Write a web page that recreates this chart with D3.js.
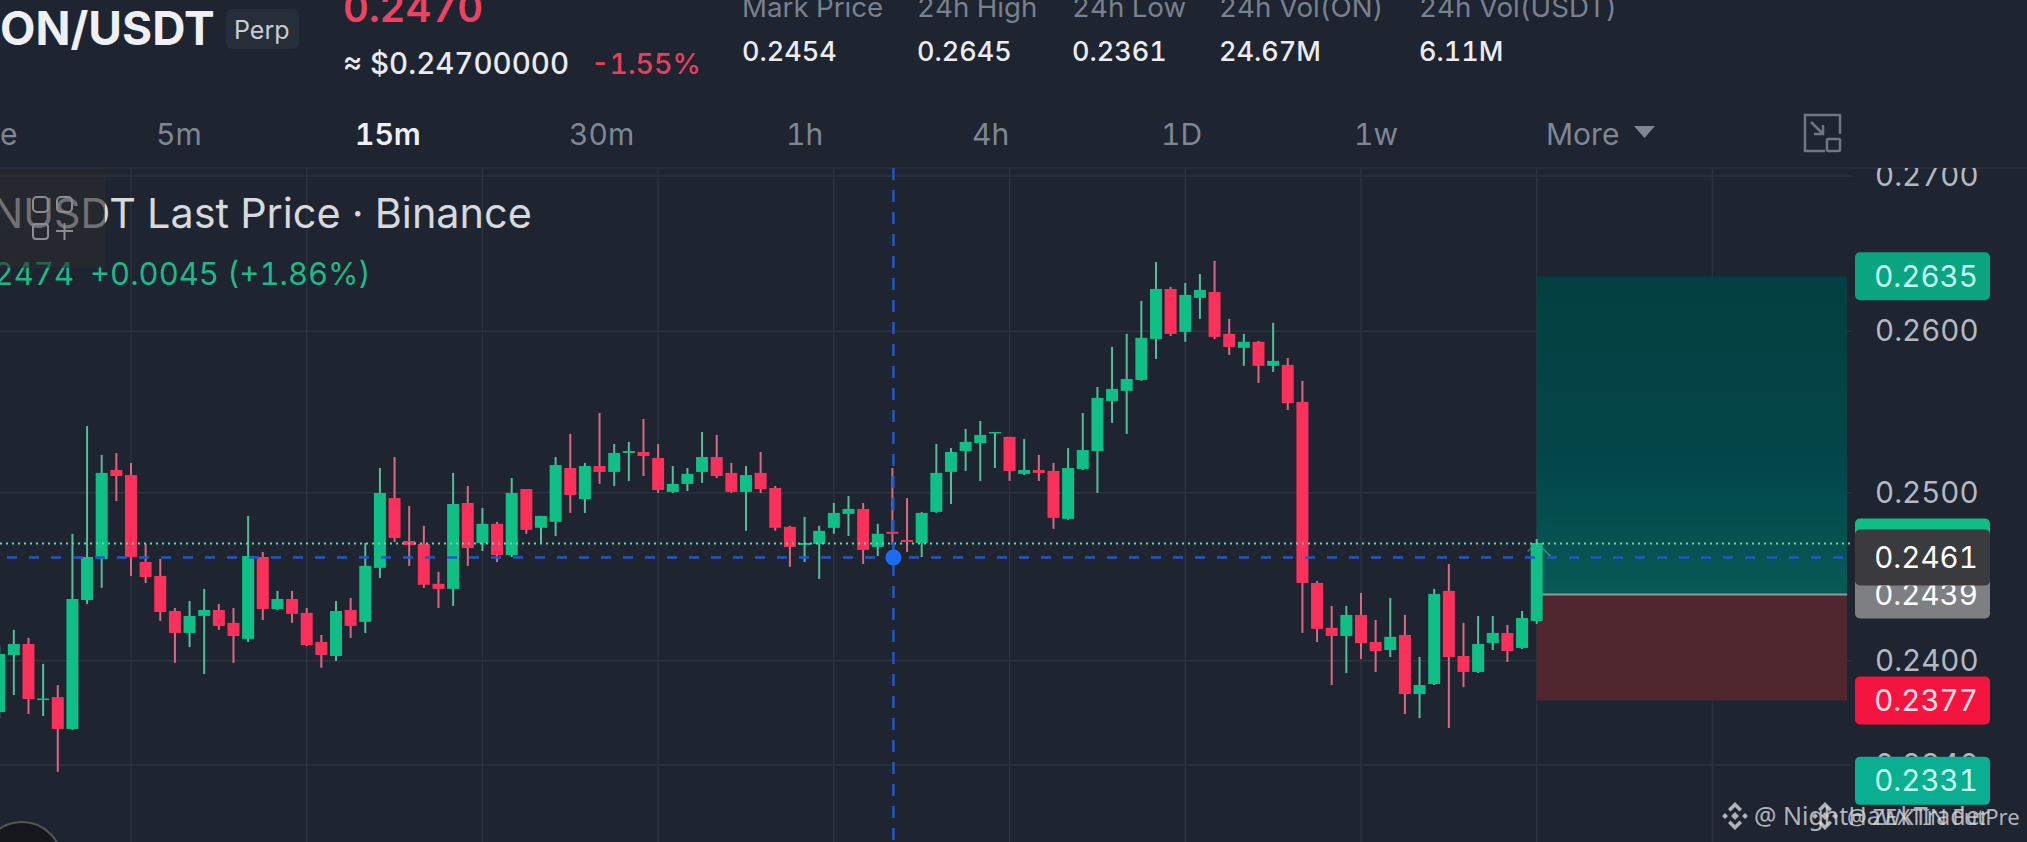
<!DOCTYPE html>
<html>
<head>
<meta charset="utf-8">
<style>
  html, body { margin: 0; padding: 0; background: #1e2430; overflow: hidden; }
  svg { display: block; font-family: Inter, Roboto, sans-serif; font-variant-numeric: tabular-nums; }
</style>
</head>
<body>
<div class="container"></div>
<script src="https://cdn.jsdelivr.net/npm/d3@7/dist/d3.min.js"></script>
<script>
// candle values, one entry per 15m bar
const opens = [
  0.23703, 0.24034, 0.24098, 0.23772, 0.23789, 0.23606, 0.24357, 0.24601, 0.25139, 0.25108,
  0.24583, 0.24500, 0.24292, 0.24163, 0.24263, 0.24298, 0.24222, 0.24128, 0.24613, 0.24304,
  0.24363, 0.24281, 0.24110, 0.24028, 0.24298, 0.24228, 0.24548, 0.24968, 0.24709, 0.24691,
  0.24453, 0.24423, 0.24938, 0.24697, 0.24812, 0.24625, 0.25023, 0.24788, 0.24824, 0.25151,
  0.24962, 0.25163, 0.25127, 0.25243, 0.25249, 0.25212, 0.25005, 0.25054, 0.25127, 0.25218,
  0.25121, 0.25005, 0.25121, 0.25029, 0.24794, 0.24685, 0.24691, 0.24788, 0.24872, 0.24902,
  0.24673, 0.24764, 0.24715, 0.24697, 0.24884, 0.25127, 0.25255, 0.25304, 0.25366, 0.25342,
  0.25115, 0.25139, 0.25133, 0.24842, 0.25145, 0.25255, 0.25564, 0.25627, 0.25695, 0.25952,
  0.26269, 0.25997, 0.26212, 0.26250, 0.25984, 0.25896, 0.25934, 0.25783, 0.25789, 0.25558,
  0.24458, 0.24193, 0.24145, 0.24269, 0.24110, 0.24063, 0.24151, 0.23807, 0.23865, 0.24411,
  0.24028, 0.23935, 0.24104, 0.24163, 0.24075, 0.24233,
];
const closes = [
  0.24040, 0.24098, 0.23778, 0.23781, 0.23606, 0.24363, 0.24613, 0.25121, 0.25102, 0.24613,
  0.24494, 0.24286, 0.24163, 0.24263, 0.24298, 0.24204, 0.24145, 0.24619, 0.24304, 0.24363,
  0.24275, 0.24092, 0.24034, 0.24292, 0.24204, 0.24560, 0.24999, 0.24727, 0.24685, 0.24447,
  0.24423, 0.24932, 0.24667, 0.24812, 0.24625, 0.24999, 0.24776, 0.24860, 0.25169, 0.24987,
  0.25163, 0.25127, 0.25243, 0.25255, 0.25224, 0.25017, 0.25054, 0.25115, 0.25218, 0.25102,
  0.25005, 0.25108, 0.25023, 0.24788, 0.24673, 0.24697, 0.24770, 0.24878, 0.24902, 0.24655,
  0.24752, 0.24752, 0.24703, 0.24878, 0.25121, 0.25249, 0.25311, 0.25354, 0.25372, 0.25133,
  0.25139, 0.25121, 0.24848, 0.25151, 0.25261, 0.25583, 0.25639, 0.25701, 0.25959, 0.26269,
  0.25984, 0.26231, 0.26263, 0.25965, 0.25902, 0.25934, 0.25783, 0.25814, 0.25551, 0.24458,
  0.24187, 0.24145, 0.24269, 0.24104, 0.24057, 0.24140, 0.23807, 0.23859, 0.24393, 0.24022,
  0.23935, 0.24098, 0.24163, 0.24057, 0.24251, 0.24697,
];
const highs = [
  0.24092, 0.24181, 0.24134, 0.23982, 0.23859, 0.24752, 0.25409, 0.25231, 0.25243, 0.25182,
  0.24691, 0.24601, 0.24310, 0.24351, 0.24423, 0.24333, 0.24310, 0.24860, 0.24643, 0.24411,
  0.24411, 0.24310, 0.24151, 0.24351, 0.24369, 0.24697, 0.25151, 0.25218, 0.24920, 0.24800,
  0.24524, 0.25121, 0.25041, 0.24908, 0.24824, 0.25090, 0.25023, 0.24860, 0.25218, 0.25360,
  0.25182, 0.25489, 0.25298, 0.25311, 0.25452, 0.25298, 0.25163, 0.25151, 0.25372, 0.25354,
  0.25182, 0.25163, 0.25249, 0.25041, 0.24800, 0.24854, 0.24800, 0.24938, 0.24980, 0.24938,
  0.24812, 0.25151, 0.24968, 0.24884, 0.25298, 0.25273, 0.25391, 0.25440, 0.25372, 0.25342,
  0.25329, 0.25231, 0.25182, 0.25273, 0.25489, 0.25651, 0.25902, 0.25984, 0.26193, 0.26442,
  0.26282, 0.26308, 0.26365, 0.26449, 0.26079, 0.25984, 0.25940, 0.26054, 0.25832, 0.25689,
  0.24470, 0.24322, 0.24322, 0.24399, 0.24239, 0.24369, 0.24269, 0.24022, 0.24423, 0.24571,
  0.24222, 0.24263, 0.24263, 0.24210, 0.24292, 0.24721,
];
const lows = [
  0.23668, 0.23801, 0.23692, 0.23680, 0.23361, 0.23600, 0.24333, 0.24429, 0.24950, 0.24500,
  0.24458, 0.24233, 0.23988, 0.24080, 0.23923, 0.24181, 0.23988, 0.24110, 0.24239, 0.24298,
  0.24222, 0.24085, 0.23959, 0.23999, 0.24134, 0.24163, 0.24488, 0.24703, 0.24560, 0.24429,
  0.24310, 0.24322, 0.24560, 0.24649, 0.24583, 0.24613, 0.24752, 0.24691, 0.24739, 0.24878,
  0.24878, 0.25054, 0.25041, 0.25072, 0.25102, 0.24999, 0.24999, 0.25011, 0.25060, 0.25090,
  0.24999, 0.24770, 0.24999, 0.24770, 0.24554, 0.24583, 0.24482, 0.24752, 0.24739, 0.24571,
  0.24619, 0.24685, 0.24643, 0.24613, 0.24878, 0.24932, 0.25133, 0.25072, 0.25151, 0.25072,
  0.25108, 0.25072, 0.24782, 0.24836, 0.25139, 0.24999, 0.25428, 0.25360, 0.25689, 0.25826,
  0.25971, 0.25934, 0.26079, 0.25952, 0.25851, 0.25783, 0.25676, 0.25745, 0.25508, 0.24163,
  0.24110, 0.23859, 0.23929, 0.24011, 0.23935, 0.24022, 0.23692, 0.23668, 0.23859, 0.23611,
  0.23847, 0.23929, 0.24063, 0.23993, 0.24069, 0.24216,
];

const priceTicks = [0.27, 0.26, 0.25, 0.24, 0.234];
const timeGridBars = [9, 21, 33, 45, 57, 69, 81, 93, 105, 117];

const lastPrice = 0.247;
const crossPrice = 0.2461;
const crossBar = 61;

// long position tool
const targetPrice = 0.2635;
const entryPrice = 0.2439;
const stopPrice = 0.2377;
const toolStartBar = 105;
const toolEndBar = 126.2;

const priceTags = [
  { price: targetPrice, fill: "#0aa480", color: "#c9fff0", h: 48 },
  { price: lastPrice, fill: "#10bd85", color: "#ffffff", h: 48 },
  { price: entryPrice, fill: "#7e7f83", color: "#ffffff", h: 48 },
  { price: stopPrice, fill: "#f5143f", color: "#ffe0e5", h: 48 },
  { price: 0.2331, fill: "#0aae91", color: "#c9fff0", h: 48 },
  { price: crossPrice, fill: "#3b3b3d", color: "#ffffff", h: 56 },
];

const statLabels = ["Mark Price", "24h High", "24h Low", "24h Vol(ON)", "24h Vol(USDT)"];
const statValues = ["0.2454", "0.2645", "0.2361", "24.67M", "6.11M"];
const statX = [742, 917, 1072, 1219, 1419];

const intervals = ["e", "5m", "15m", "30m", "1h", "4h", "1D", "1w", "More"];
const intervalX = [0, 156, 355, 569, 786, 972, 1161, 1354, 1546];

const width = 2027;
const height = 842;
const gridRight = 1852;
const chartTop = 168;

const green = "#0fbf85";
const red = "#fb305b";
const wickGreen = "#56bd9c";
const wickRed = "#d96a84";
const gridColor = "#2c333e";
const blue = "#1f58c9";

const svg = d3
  .select(".container")
  .append("svg")
  .attr("width", width)
  .attr("height", height)
  .attr("viewBox", `0 0 ${width} ${height}`);

svg.append("rect").attr("width", width).attr("height", height).attr("fill", "#1e2430");

const x = d3.scaleLinear().domain([0, 105]).range([-0.8, 1536.7]);
const y = d3.scaleLog().domain([0.27, 0.234]).range([176, 765]);

const defs = svg.append("defs");
const boxGradient = defs
  .append("linearGradient")
  .attr("id", "targetFill")
  .attr("x1", 0)
  .attr("x2", 0)
  .attr("y1", 0)
  .attr("y2", 1);
boxGradient.append("stop").attr("offset", "0%").attr("stop-color", "#033f40");
boxGradient.append("stop").attr("offset", "60%").attr("stop-color", "#03474a");
boxGradient.append("stop").attr("offset", "100%").attr("stop-color", "#075a56");

defs
  .append("clipPath")
  .attr("id", "axisClip")
  .append("rect")
  .attr("x", gridRight)
  .attr("y", chartTop)
  .attr("width", width - gridRight)
  .attr("height", height - chartTop);

// header
const header = svg.append("g");
header
  .append("text")
  .attr("x", 0)
  .attr("y", 45)
  .attr("font-size", 46)
  .attr("font-weight", 700)
  .attr("fill", "#eef0f3")
  .text("ON/USDT");
header
  .append("rect")
  .attr("x", 226)
  .attr("y", 9)
  .attr("width", 73)
  .attr("height", 40)
  .attr("rx", 6)
  .attr("fill", "#262e3a");
header
  .append("text")
  .attr("x", 234)
  .attr("y", 39)
  .attr("font-size", 25)
  .attr("fill", "#c9cdd3")
  .text("Perp");
header
  .append("text")
  .attr("x", 343)
  .attr("y", 22)
  .attr("font-size", 40)
  .attr("font-weight", 600)
  .attr("fill", "#ec4460")
  .text("0.2470");
header
  .append("text")
  .attr("x", 343)
  .attr("y", 74)
  .attr("font-size", 29.5)
  .attr("font-weight", 500)
  .attr("fill", "#e9ebee")
  .text("≈ $0.24700000");
header
  .append("text")
  .attr("x", 591)
  .attr("y", 74)
  .attr("font-size", 28.5)
  .attr("font-weight", 500)
  .attr("fill", "#e5415c")
  .text("-1.55%");

header
  .selectAll(".stat-label")
  .data(statLabels)
  .enter()
  .append("text")
  .attr("class", "stat-label")
  .attr("x", (d, i) => statX[i])
  .attr("y", 17)
  .attr("font-size", 27.7)
  .attr("fill", "#79818e")
  .text((d) => d);
header
  .selectAll(".stat-value")
  .data(statValues)
  .enter()
  .append("text")
  .attr("class", "stat-value")
  .attr("x", (d, i) => statX[i])
  .attr("y", 61)
  .attr("font-size", 27)
  .attr("font-weight", 500)
  .attr("fill", "#eaecef")
  .text((d) => d);

// interval tabs
header
  .selectAll(".interval")
  .data(intervals)
  .enter()
  .append("text")
  .attr("class", "interval")
  .attr("x", (d, i) => intervalX[i])
  .attr("y", 145)
  .attr("font-size", 30)
  .attr("font-weight", (d) => (d === "15m" ? 600 : 400))
  .attr("fill", (d) => (d === "15m" ? "#eef0f3" : "#7f8794"))
  .text((d) => d);
header.append("path").attr("d", "M1634,126 H1655 L1644.5,138 Z").attr("fill", "#7f8794");

// expand icon
const icon = header.append("g").attr("fill", "none").attr("stroke", "#6f7784").attr("stroke-width", 2.5);
icon.append("path").attr("d", "M1825,151 H1805 V115 H1840 V134");
icon.append("rect").attr("x", 1827).attr("y", 139).attr("width", 13).attr("height", 12).attr("rx", 1);
icon.append("path").attr("d", "M1811,122 L1823,134 M1823,125 V134 H1814");

// grid
svg
  .append("line")
  .attr("x1", 0)
  .attr("x2", width)
  .attr("y1", chartTop)
  .attr("y2", chartTop)
  .attr("stroke", "#262d38")
  .attr("stroke-width", 2);

const grid = svg.append("g").attr("stroke", gridColor).attr("stroke-width", 1.5);
grid
  .selectAll(".h")
  .data(priceTicks)
  .enter()
  .append("line")
  .attr("class", "h")
  .attr("x1", 0)
  .attr("x2", gridRight)
  .attr("y1", (d) => y(d))
  .attr("y2", (d) => y(d));
grid
  .selectAll(".v")
  .data(timeGridBars)
  .enter()
  .append("line")
  .attr("class", "v")
  .attr("x1", (d) => x(d))
  .attr("x2", (d) => x(d))
  .attr("y1", chartTop)
  .attr("y2", height);

// position tool boxes
svg
  .append("rect")
  .attr("x", x(toolStartBar))
  .attr("y", y(targetPrice))
  .attr("width", x(toolEndBar) - x(toolStartBar))
  .attr("height", y(entryPrice) - y(targetPrice))
  .attr("fill", "url(#targetFill)");
svg
  .append("rect")
  .attr("x", x(toolStartBar))
  .attr("y", y(entryPrice))
  .attr("width", x(toolEndBar) - x(toolStartBar))
  .attr("height", y(stopPrice) - y(entryPrice))
  .attr("fill", "#50262f");
svg
  .append("line")
  .attr("x1", x(toolStartBar))
  .attr("x2", x(toolEndBar))
  .attr("y1", y(entryPrice))
  .attr("y2", y(entryPrice))
  .attr("stroke", "#8e9c9b")
  .attr("stroke-width", 2);

// little arrow sitting on the last candle
svg
  .append("path")
  .attr("d", `M${x(105) - 9},${y(lastPrice) + 9} L${x(105)},${y(lastPrice)} L${x(105) + 14},${y(lastPrice) + 14}`)
  .attr("fill", "none")
  .attr("stroke", "#6fcfae")
  .attr("stroke-opacity", 0.5)
  .attr("stroke-width", 1.5);

// candles
const bars = d3.range(opens.length);
const candles = svg
  .append("g")
  .selectAll("g")
  .data(bars)
  .enter()
  .append("g")
  .attr("transform", (i) => `translate(${x(i)}, 0)`);
candles
  .append("line")
  .attr("y1", (i) => y(highs[i]))
  .attr("y2", (i) => y(lows[i]))
  .attr("stroke", (i) => (closes[i] >= opens[i] ? wickGreen : wickRed))
  .attr("stroke-width", 2);
candles
  .append("rect")
  .attr("x", -6)
  .attr("width", 12)
  .attr("y", (i) => y(Math.max(opens[i], closes[i])))
  .attr("height", (i) => Math.max(1.5, Math.abs(y(opens[i]) - y(closes[i]))))
  .attr("fill", (i) => (closes[i] >= opens[i] ? green : red));

// last price and crosshair
svg
  .append("line")
  .attr("x1", 0)
  .attr("x2", gridRight)
  .attr("y1", y(lastPrice) + 1)
  .attr("y2", y(lastPrice) + 1)
  .attr("stroke", "#6fcfae")
  .attr("stroke-width", 2)
  .attr("stroke-dasharray", "2 4");
svg
  .append("line")
  .attr("x1", 7)
  .attr("x2", x(toolEndBar))
  .attr("y1", y(crossPrice))
  .attr("y2", y(crossPrice))
  .attr("stroke", blue)
  .attr("stroke-width", 2.5)
  .attr("stroke-dasharray", "10 12");
svg
  .append("line")
  .attr("x1", x(crossBar) + 1)
  .attr("x2", x(crossBar) + 1)
  .attr("y1", chartTop)
  .attr("y2", height)
  .attr("stroke", blue)
  .attr("stroke-width", 2.5)
  .attr("stroke-dasharray", "12 10");
svg
  .append("circle")
  .attr("cx", x(crossBar) + 1)
  .attr("cy", y(crossPrice))
  .attr("r", 8)
  .attr("fill", "#1b6cf0");

// legend
svg
  .append("text")
  .attr("x", -8)
  .attr("y", 228)
  .attr("font-size", 41.4)
  .attr("fill", "#d6d9dd")
  .text("NUSDT Last Price · Binance");
svg
  .append("text")
  .attr("x", 74)
  .attr("y", 285)
  .attr("text-anchor", "end")
  .attr("font-size", 31)
  .attr("fill", "#1fb88a")
  .text("2474");
svg
  .append("text")
  .attr("x", 90)
  .attr("y", 285)
  .attr("font-size", 31)
  .attr("fill", "#1fb88a")
  .text("+0.0045 (+1.86%)");

// floating button over the legend
svg
  .append("rect")
  .attr("x", 0)
  .attr("y", 172)
  .attr("width", 105)
  .attr("height", 96)
  .attr("fill", "#2a2b2f")
  .attr("opacity", 0.6);
const button = svg.append("g").attr("fill", "none").attr("stroke", "#8b8d91").attr("stroke-width", 2);
button.append("rect").attr("x", 33).attr("y", 197).attr("width", 15).attr("height", 15).attr("rx", 4);
button.append("rect").attr("x", 57).attr("y", 197).attr("width", 15).attr("height", 15).attr("rx", 4);
button.append("rect").attr("x", 33).attr("y", 224).attr("width", 15).attr("height", 15).attr("rx", 3);
button.append("path").attr("d", "M56,231 H73 M64.5,223 V240");

// price axis
const axisGroup = svg.append("g").attr("clip-path", "url(#axisClip)");
const axis = axisGroup
  .append("g")
  .attr("transform", "translate(1875, 0)")
  .call(d3.axisRight(y).tickValues(priceTicks).tickSize(0).tickPadding(0).tickFormat(d3.format(".4f")));
axis.select(".domain").remove();
axis.selectAll("text").attr("font-family", "Inter, Roboto, sans-serif").attr("font-size", 29.5).attr("fill", "#b4b9c1");

// price tags
const tags = svg
  .append("g")
  .selectAll("g")
  .data(priceTags)
  .enter()
  .append("g")
  .attr("transform", (d) => `translate(1855, ${y(d.price)})`);
tags
  .append("rect")
  .attr("y", (d) => -d.h / 2)
  .attr("width", 135)
  .attr("height", (d) => d.h)
  .attr("rx", 5)
  .attr("fill", (d) => d.fill);
tags
  .append("text")
  .attr("x", 71)
  .attr("dy", "0.36em")
  .attr("text-anchor", "middle")
  .attr("font-size", 29.5)
  .attr("fill", (d) => d.color)
  .text((d) => d.price.toFixed(4));

// round button cut off at the bottom left
svg
  .append("circle")
  .attr("cx", 22)
  .attr("cy", 862)
  .attr("r", 40)
  .attr("fill", "#15171c")
  .attr("stroke", "#555")
  .attr("stroke-width", 2);

// watermarks
function watermark(cx, textX, label, size) {
  const g = svg.append("g").attr("opacity", 0.8);
  const mark = g.append("g").attr("transform", `translate(${cx}, 816)`).attr("fill", "#d5d8dc");
  mark.append("path").attr("d", "M0,-4 L4,0 L0,4 L-4,0 Z");
  mark.append("path").attr("d", "M-13,0 L-10,-3 L-7,0 L-10,3 Z M13,0 L10,-3 L7,0 L10,3 Z");
  mark.append("path").attr("d", "M-7,-7 L0,-14 L7,-7 L4.5,-4.5 L0,-9 L-4.5,-4.5 Z");
  mark.append("path").attr("d", "M-7,7 L0,14 L7,7 L4.5,4.5 L0,9 L-4.5,4.5 Z");
  g.append("text")
    .attr("x", textX)
    .attr("y", 825)
    .attr("font-size", size)
    .attr("font-family", "'Noto Sans', sans-serif")
    .attr("fill", "#d5d8dc")
    .text(label);
}
watermark(1735, 1754, "@ NightHawkTrader", 25);
watermark(1825, 1847, "@ ZEXTIN FutPre", 22);
</script>
</body>
</html>
